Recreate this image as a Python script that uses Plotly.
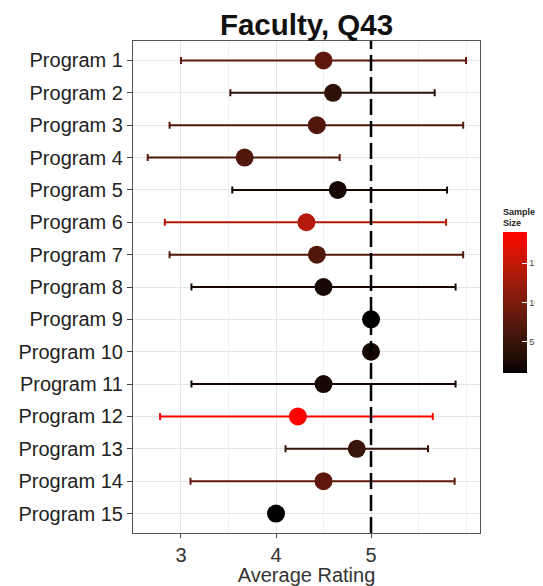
import plotly.graph_objects as go
from plotly.colors import sample_colorscale

# ---- data ----
programs = [f"Program {i}" for i in range(1, 16)]
mean_rating = [4.5, 4.6, 4.43, 3.67, 4.65, 4.32, 4.43, 4.5, 5.0, 5.0, 4.5, 4.23, 4.85, 4.5, 4.0]
ci_lower = [3.0, 3.52, 2.88, 2.65, 3.54, 2.83, 2.88, 3.11, None, None, 3.11, 2.78, 4.1, 3.1, None]
ci_upper = [6.0, 5.67, 5.97, 4.67, 5.8, 5.79, 5.97, 5.89, None, None, 5.89, 5.65, 5.6, 5.88, None]
sample_size = [8, 4, 7, 7, 2, 14, 7, 2, 1, 2, 2, 19, 5, 8, 1]
reference_line = 5
x_ticks = [3, 4, 5]

# ---- colour scale: black -> red interpolated in Lab (ggplot2 style) ----
def lab_to_rgb(L, a, b):
    fy = (L + 16) / 116
    fx = fy + a / 500
    fz = fy - b / 200
    def finv(t):
        return t ** 3 if t > 6 / 29 else 3 * (6 / 29) ** 2 * (t - 4 / 29)
    X, Y, Z = 0.95047 * finv(fx), 1.0 * finv(fy), 1.08883 * finv(fz)
    r = 3.2406 * X - 1.5372 * Y - 0.4986 * Z
    g = -0.9689 * X + 1.8758 * Y + 0.0415 * Z
    bb = 0.0557 * X - 0.2040 * Y + 1.0570 * Z
    def gam(c):
        c = max(0.0, min(1.0, c))
        return 12.92 * c if c <= 0.0031308 else 1.055 * c ** (1 / 2.4) - 0.055
    return "rgb({},{},{})".format(*[int(round(255 * gam(c))) for c in (r, g, bb)])

red_lab = (53.24, 80.09, 67.20)
colorscale = []
for i in range(21):
    t = i / 20
    colorscale.append([t, lab_to_rgb(red_lab[0] * t, red_lab[1] * t, red_lab[2] * t)])

cmin, cmax = min(sample_size), max(sample_size)

fig = go.Figure()

# error bars, one per program, coloured by sample size
for p, m, lo, hi, n in zip(programs, mean_rating, ci_lower, ci_upper, sample_size):
    if lo is None or hi is None:
        continue
    col = sample_colorscale(colorscale, [(n - cmin) / (cmax - cmin)])[0]
    fig.add_trace(go.Scatter(
        x=[m], y=[p], mode="markers",
        marker=dict(size=1, color="rgba(0,0,0,0)"),
        error_x=dict(type="data", symmetric=False, array=[hi - m], arrayminus=[m - lo],
                     color=col, thickness=2, width=3.5),
        showlegend=False, hoverinfo="skip"))

# points
fig.add_trace(go.Scatter(
    x=mean_rating, y=programs, mode="markers",
    marker=dict(size=18, color=sample_size, colorscale=colorscale, cmin=cmin, cmax=cmax,
                line=dict(width=0),
                colorbar=dict(
                    title=dict(text="<b>Sample<br>Size</b>", side="top",
                               font=dict(size=9, color="#222", family="Liberation Sans")),
                    x=1.066, xanchor="left", thickness=24, xpad=0, ypad=0,
                    len=168, lenmode="pixels", y=(533 - 373) / 492, yanchor="bottom",
                    tickvals=[5, 10, 15], ticks="inside", tickcolor="white", ticklen=5,
                    tickfont=dict(size=9, color="#444", family="Liberation Sans"),
                    outlinewidth=0)),
    showlegend=False))

fig.add_shape(type="line", xref="x", yref="paper", x0=reference_line, x1=reference_line,
              y0=0, y1=1, line=dict(color="black", width=2.5, dash="16px,6px"), layer="above")

# the page places the figure 8px in from the top-left corner; sizes compensate for that
fig.update_layout(
    width=535, height=578,
    margin=dict(l=125, r=63, t=33, b=53, autoexpand=False),
    paper_bgcolor="white", plot_bgcolor="white",
    font=dict(family="Liberation Sans", color="#222"),
    title=dict(text="<b>Faculty, Q43</b>", x=0.5, xref="paper", xanchor="center",
               y=1 - 17 / 578, yref="container", yanchor="middle",
               font=dict(size=29.5, color="#111", family="Liberation Sans")),
)
fig.update_xaxes(
    range=[2.495, 6.147], tickvals=x_ticks, ticks="outside", ticklen=4, tickcolor="#444",
    tickfont=dict(size=20, color="#333"),
    showgrid=True, gridcolor="#e6e6e6", gridwidth=1,
    minor=dict(dtick=0.5, tick0=2.5, showgrid=True, gridcolor="#f2f2f2", gridwidth=0.8),
    showline=True, linecolor="#555", linewidth=1.2, mirror=True, zeroline=False,
    title=dict(text="Average Rating", font=dict(size=20, color="#333"), standoff=5))
fig.update_yaxes(
    categoryorder="array", categoryarray=programs, range=[14.6, -0.6],
    ticks="outside", ticklen=5, tickcolor="#444",
    tickfont=dict(size=20, color="#222"),
    showgrid=True, gridcolor="#e6e6e6", gridwidth=1,
    showline=True, linecolor="#555", linewidth=1.2, mirror=True, zeroline=False)

fig.write_html("out.html")
